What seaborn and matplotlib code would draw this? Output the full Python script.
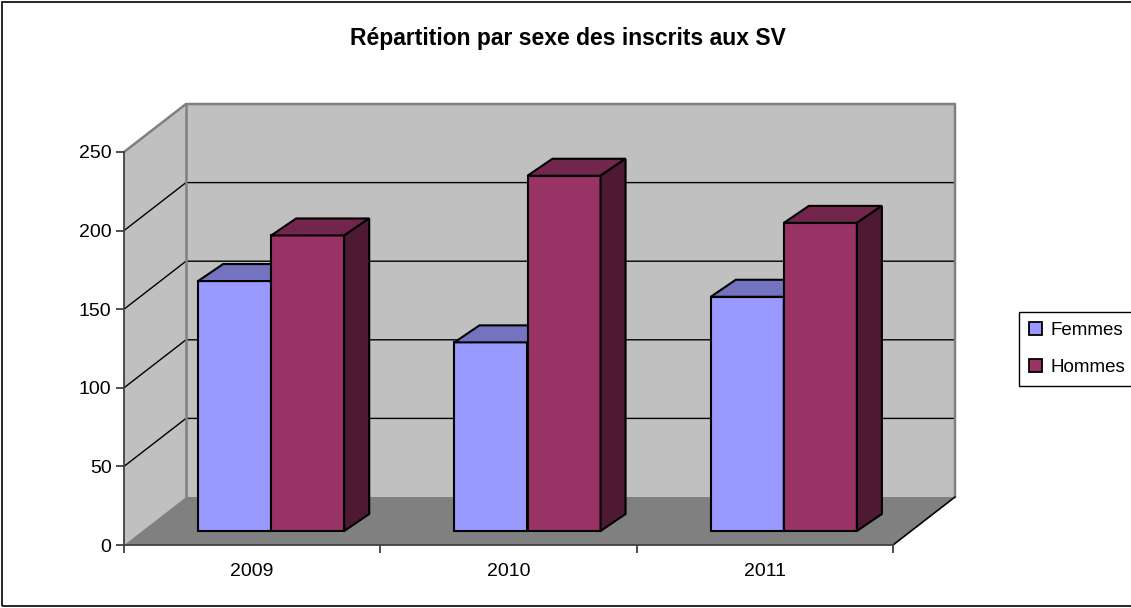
import pandas as pd
import numpy as np
import matplotlib
matplotlib.use("Agg")
import matplotlib.pyplot as plt
import seaborn as sns
from matplotlib.patches import Polygon, Rectangle, Patch
from matplotlib.transforms import ScaledTranslation

# Data
years = ["2009", "2010", "2011"]
femmes = [159, 120, 149]
hommes = [188, 226, 196]

df = pd.DataFrame({
    "Année": years * 2,
    "Inscrits": femmes + hommes,
    "Sexe": ["Femmes"] * 3 + ["Hommes"] * 3,
})

front = {"Femmes": "#9999FF", "Hommes": "#993366"}
top = {"Femmes": "#7373BF", "Hommes": "#73264D"}
side = {"Femmes": "#5C5C99", "Hommes": "#4D1933"}

sns.set_style("white")
plt.rcParams["font.family"] = ["Liberation Sans", "DejaVu Sans"]
plt.rcParams["text.color"] = "black"
plt.rcParams["xtick.labelcolor"] = "black"
plt.rcParams["ytick.labelcolor"] = "black"

W, H = 1131, 608
fig = plt.figure(figsize=(W / 100, H / 100), dpi=100)
# front plane of the 3D box
ax = fig.add_axes([124 / W, (H - 545) / H, (893 - 124) / W, (545 - 152) / H])
ax.set_facecolor("none")

sns.barplot(data=df, x="Année", y="Inscrits", hue="Sexe", palette=front,
            width=0.57, gap=0, edgecolor="black", linewidth=1.5,
            saturation=1, legend=False, ax=ax, zorder=3)
ax.set_xlim(-0.5, 2.5)
ax.set_ylim(0, 250)

# pixel -> data units
px_x = 3 / (893 - 124)
px_y = 250 / (545 - 152)
Dx, Dy = 62 * px_x, 48 * px_y          # full depth of the box
bx, by = 25 * px_x, 17 * px_y          # depth of a bar

# walls and floor
x0, x1 = -0.5, 2.5
wall = "#C0C0C0"
edge = "#808080"
ax.add_patch(Polygon([(x0, 0), (x0 + Dx, Dy), (x0 + Dx, 250 + Dy), (x0, 250)],
                     closed=True, fc=wall, ec="none", zorder=0.1, clip_on=False))
ax.add_patch(Rectangle((x0 + Dx, Dy), x1 - x0, 250, fc=wall, ec="none",
                       zorder=0.1, clip_on=False))
ax.add_patch(Polygon([(x0, 0), (x1, 0), (x1 + Dx, Dy), (x0 + Dx, Dy)],
                     closed=True, fc="#808080", ec="none", zorder=0.2, clip_on=False))
for v in [50, 100, 150, 200]:
    ax.plot([x0, x0 + Dx, x1 + Dx], [v, v + Dy, v + Dy], color="black",
            lw=1, zorder=0.3, clip_on=False)
ax.plot([x0, x0 + Dx, x1 + Dx, x1 + Dx], [250, 250 + Dy, 250 + Dy, Dy],
        color=edge, lw=1.8, zorder=0.3, clip_on=False)
ax.plot([x0 + Dx, x0 + Dx], [Dy, 250 + Dy], color=edge, lw=1.8, zorder=0.3, clip_on=False)
ax.plot([x1, x1 + Dx], [0, Dy], color="black", lw=1.2, zorder=0.3, clip_on=False)

# bars: lift them into the box and add top/side faces
shift = ScaledTranslation(19 / 100, 14 / 100, fig.dpi_scale_trans)
bars = sorted([p for p in ax.patches if isinstance(p, Rectangle)
               and p.get_height() > 0 and p.get_width() < 1],
              key=lambda p: p.get_x())
fem_rgb = matplotlib.colors.to_rgb(front["Femmes"])
z = 3
for p in bars:
    x, w, h = p.get_x(), p.get_width(), p.get_height()
    key = "Femmes" if np.allclose(p.get_facecolor()[:3], fem_rgb) else "Hommes"
    tr = ax.transData + shift
    p.set_transform(tr)
    p.set_zorder(z)
    p.set_clip_on(False)
    tp = Polygon([(x, h), (x + w, h), (x + w + bx, h + by), (x + bx, h + by)], closed=True,
                 fc=top[key], ec="black", lw=1.5, zorder=z + 0.1, transform=tr, clip_on=False)
    sp = Polygon([(x + w, 0), (x + w + bx, by), (x + w + bx, h + by), (x + w, h)], closed=True,
                 fc=side[key], ec="black", lw=1.5, zorder=z + 0.1, transform=tr, clip_on=False)
    ax.add_patch(tp)
    ax.add_patch(sp)
    z += 1

# axes
sns.despine(ax=ax, top=True, right=True)
for s in ["left", "bottom"]:
    ax.spines[s].set_color("#404040")
    ax.spines[s].set_linewidth(1.3)
    ax.spines[s].set_zorder(20)
ax.set_yticks([0, 50, 100, 150, 200, 250])
ax.set_xticks([0, 1, 2])
ax.set_xticks([-0.5, 0.5, 1.5, 2.5], minor=True)
ax.tick_params(axis="y", direction="out", length=6, width=1.3, color="#404040",
               labelsize=14, pad=3, left=True, labelcolor="black")
ax.tick_params(axis="x", which="major", length=0, labelsize=14, pad=13, labelcolor="black")
ax.tick_params(axis="x", which="minor", direction="out", length=6, width=1.3,
               color="#404040", bottom=True)
ax.set_xlabel("")
ax.set_ylabel("")

fig.text(568 / W, 1 - 39 / H, "Répartition par sexe des inscrits aux SV",
         ha="center", va="center", fontsize=16.5, fontweight="bold", color="black")

handles = [Patch(fc=front[k], ec="black", lw=1.3, label=k) for k in ["Femmes", "Hommes"]]
leg = fig.legend(handles=handles, loc="upper left", bbox_to_anchor=(1019 / W, 1 - 312 / H),
                 bbox_transform=fig.transFigure, borderaxespad=0, frameon=True,
                 fancybox=False, edgecolor="black", fontsize=13.5, handlelength=0.65,
                 handleheight=0.65, handletextpad=0.5, labelspacing=1.05,
                 borderpad=0.55, framealpha=1)
leg.get_frame().set_linewidth(1.0)
for t in leg.get_texts():
    t.set_color("black")

fig.add_artist(Rectangle((2 / W, 2 / H), 1.2, (H - 4) / H, transform=fig.transFigure,
                         fc="none", ec="black", lw=1.2))

fig.savefig("out.png", dpi=100)
